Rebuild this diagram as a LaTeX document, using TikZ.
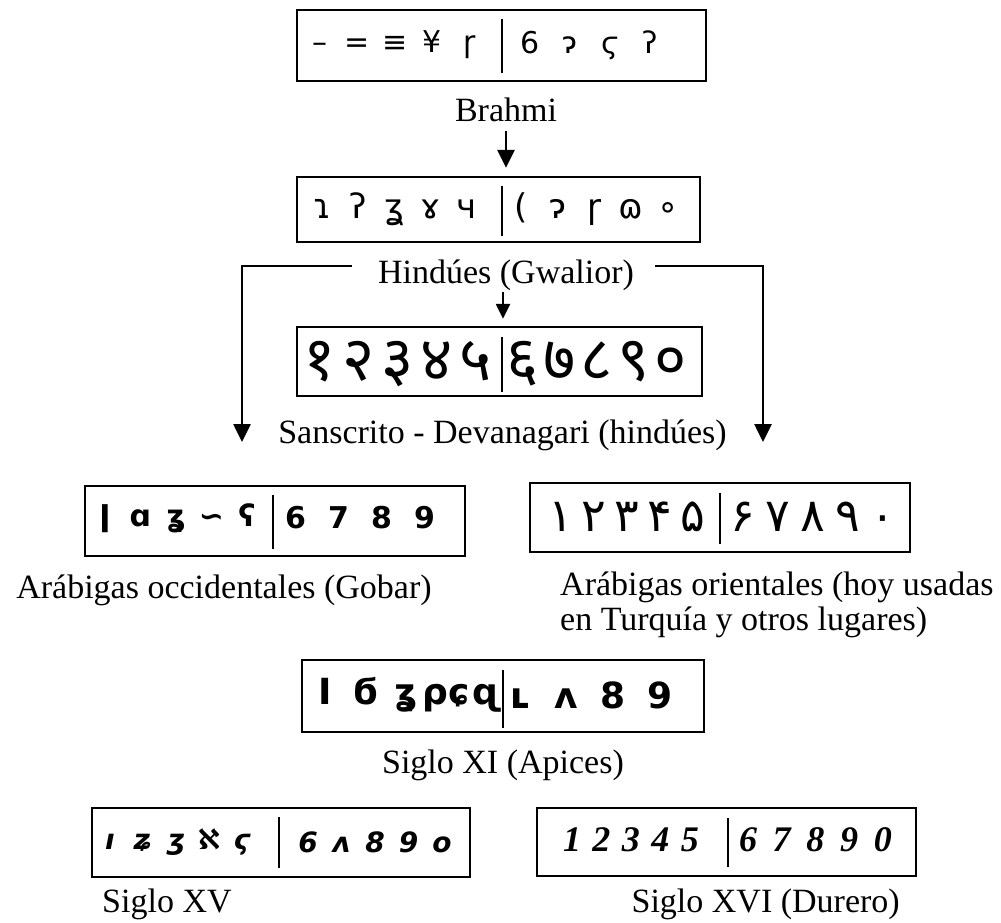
\documentclass[tikz,border=0pt]{standalone}
\usepackage{fontspec}
\setmainfont{Liberation Serif}
\newfontfamily\glyphfont{DejaVu Sans}
\newfontfamily\devafont[Script=Devanagari]{Noto Sans}
\newfontfamily\arabfont[Script=Arabic]{DejaVu Sans}
\newfontfamily\durerfont{Liberation Serif}
\usetikzlibrary{arrows.meta, positioning}

\newcommand{\numrow}[2]{\foreach \g in {#2}{\makebox[#1]{\g}}}

\tikzset{
  numbox/.style={draw, line width=2.4pt, rectangle, inner sep=0pt},
  divider/.style={line width=2.4pt},
  glyphs/.style={inner sep=0pt},
  caption/.style={inner sep=0pt, font=\fontsize{34}{35}\selectfont},
  arrowline/.style={line width=2.6pt, -{Triangle[width=17pt,length=18pt]}},
  smallarrow/.style={line width=2.4pt, -{Triangle[width=14pt,length=15pt]}}
}

\begin{document}
\begin{tikzpicture}[x=1pt, y=-1pt]
\useasboundingbox (0,0) rectangle (1001,922);

% Brahmi
\node (brahmi) [numbox, minimum width=409pt, minimum height=71pt] at (501.5,45.5) {};
\draw [divider] (502,19) -- (502,73);
\node (brahmiL) [glyphs, font=\glyphfont\fontsize{30}{30}\selectfont] at (395,45) {\numrow{37.5pt}{–,=,≡,¥,ɼ}};
\node (brahmiR) [glyphs, font=\glyphfont\fontsize{30}{30}\selectfont] at (590,45) {\numrow{40pt}{6,ɂ,ϛ,ʔ}};
\node (brahmilab) [caption, anchor=base] at (506,121) {Brahmi};

% Gwalior
\node (gwalior) [numbox, minimum width=403pt, minimum height=65pt] at (498.5,209.5) {};
\draw [divider] (502,186) -- (502,236);
\node (gwaliorL) [glyphs, font=\glyphfont\fontsize{34}{34}\selectfont] at (394.5,209) {\numrow{36pt}{ɿ,ʔ,ʓ,ɤ,ч}};
\node (gwaliorR) [glyphs, font=\glyphfont\fontsize{34}{34}\selectfont] at (594.5,209) {\numrow{36.75pt}{{(},ɂ,ɼ,ɷ,∘}};
\node (hindu) [caption, anchor=base] at (506,283) {Hindúes (Gwalior)};

\draw [arrowline, shorten <=9pt, shorten >=8pt] (brahmilab.south) -- (brahmilab.south |- gwalior.north);

% Devanagari
\node (deva) [numbox, minimum width=405pt, minimum height=69pt] at (499.5,361.5) {};
\draw [divider] (502,337) -- (502,392);
\node (devaL) [glyphs, font=\devafont\fontsize{62}{62}\selectfont] at (398,364) {\numrow{39pt}{१,२,३,४,५}};
\node (devaR) [glyphs, font=\devafont\fontsize{62}{62}\selectfont] at (597,364) {\numrow{37pt}{६,७,८,९,०}};
\node (sanscrito) [caption, anchor=base] at (502.5,443) {Sanscrito - Devanagari (hindúes)};

\coordinate (lefttip) at (242,442);
\coordinate (righttip) at (763,442);
\draw [smallarrow, shorten <=2pt, shorten >=7pt] ([xshift=-3pt]hindu.south) -- ([xshift=-3pt]hindu.south |- deva.north);
\draw [arrowline] ([xshift=-26pt,yshift=9pt]hindu.west) -| (lefttip);
\draw [arrowline] ([xshift=21pt,yshift=9pt]hindu.east) -| (righttip);

% Gobar
\node (gobar) [numbox, minimum width=380pt, minimum height=70pt] at (275,521) {};
\draw [divider] (273,495) -- (273,549);
\node (gobarL) [glyphs, font=\glyphfont\bfseries\fontsize{30}{30}\selectfont] at (176,518) {\numrow{35.5pt}{ǀ,ɑ,ʓ,∽,ʕ}};
\node (gobarR) [glyphs, font=\glyphfont\bfseries\fontsize{30}{30}\selectfont] at (360,518) {\numrow{43pt}{6,7,8,9}};
\node (gobarlab) [caption, anchor=base] at (224,598) {Arábigas occidentales (Gobar)};

% orientales
\node (orient) [numbox, minimum width=380pt, minimum height=69pt] at (720,517.5) {};
\draw [divider] (720,493) -- (720,544);
\node (orientL) [glyphs, font=\arabfont\fontsize{46}{46}\selectfont] at (626.5,517) {\numrow{33pt}{۱,۲,۳,۴,۵}};
\node (orientR) [glyphs, font=\arabfont\fontsize{46}{46}\selectfont] at (812.5,517) {\numrow{35pt}{۶,۷,۸,۹,۰}};
\node (orientlab) [caption, anchor=base west, align=left] at (560,630) {Arábigas orientales (hoy usadas\\en Turquía y otros lugares)};

% Apices
\node (apices) [numbox, minimum width=402pt, minimum height=72pt] at (503,696) {};
\draw [divider] (503,670) -- (503,728);
\node (apicesL) [glyphs, font=\glyphfont\bfseries\fontsize{36}{36}\selectfont] at (406,695) {\numrow{40.5pt}{I,ϭ,ʓ,ρɕ,ɋ}};
\node (apicesR) [glyphs, font=\glyphfont\bfseries\fontsize{36}{36}\selectfont] at (590,695) {\numrow{46.7pt}{ʟ,ʌ,8,9}};
\node (apiceslab) [caption, anchor=base] at (503,773) {Siglo XI (Apices)};

% Siglo XV
\node (xv) [numbox, minimum width=378pt, minimum height=69pt] at (281,842.5) {};
\draw [divider] (279,817) -- (279,868);
\node (xvL) [glyphs, font=\glyphfont\bfseries\itshape\fontsize{28}{28}\selectfont] at (176,842) {\numrow{33pt}{ı,ʑ,ʒ,ℵ,ϛ}};
\node (xvR) [glyphs, font=\glyphfont\bfseries\itshape\fontsize{28}{28}\selectfont] at (375,842) {\numrow{33.5pt}{6,ʌ,8,9,o}};
\node (xvlab) [caption, anchor=base west] at (102,912) {Siglo XV};

% Siglo XVI
\node (xvi) [numbox, minimum width=379pt, minimum height=68pt] at (726.5,842) {};
\draw [divider] (728,818) -- (728,867);
\node (xviL) [glyphs, font=\durerfont\bfseries\itshape\fontsize{36}{36}\selectfont] at (631,840) {\numrow{29.5pt}{1,2,3,4,5}};
\node (xviR) [glyphs, font=\durerfont\bfseries\itshape\fontsize{36}{36}\selectfont] at (815.5,840) {\numrow{33.75pt}{6,7,8,9,0}};
\node (xvilab) [caption, anchor=base east] at (900,912) {Siglo XVI (Durero)};
\end{tikzpicture}
\end{document}
